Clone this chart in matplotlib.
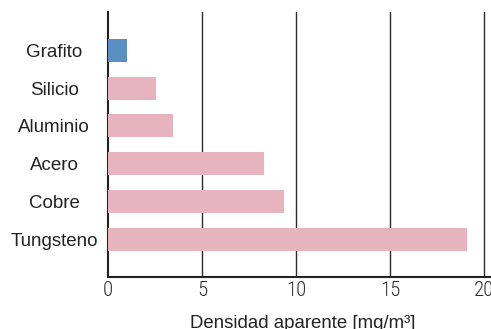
import matplotlib
matplotlib.use("Agg")
import matplotlib.pyplot as plt

categories = ["Grafito", "Silicio", "Aluminio", "Acero", "Cobre", "Tungsteno"]
values = [1.0, 2.55, 3.45, 8.3, 9.35, 19.1]
colors = ["#5b8fc4", "#e6b3be", "#e6b3be", "#e6b3be", "#e6b3be", "#e6b3be"]
xticks = [0, 5, 10, 15, 20]
xlabel = "Densidad aparente [mg/m³]"

plt.rcParams['font.family'] = ['Liberation Sans', 'DejaVu Sans']

fig = plt.figure(figsize=(4.91, 3.29), dpi=100)
ax = fig.add_axes([108.3/491, (329-277.3)/329, 1 - 108.3/491, (277.3-12.3)/329])

ypos = list(range(len(categories)))
ax.barh(ypos, values, height=0.61, color=colors, zorder=3)
ax.set_xlim(0, 20.36)
ax.set_ylim(len(categories) - 1 + 1.01, -1.01)

ax.set_yticks(ypos)
ax.set_yticklabels(categories, fontsize=13.5, color="#222222")
for lbl in ax.get_yticklabels():
    lbl.set_horizontalalignment("center")
ax.tick_params(axis='y', length=0, pad=39)

ax.set_xticks(xticks)
ax.set_xticklabels([str(t) for t in xticks], fontsize=15, fontweight='light',
                   family=['Roboto Condensed', 'DejaVu Sans'], color="#2a2a2a")
ax.tick_params(axis='x', length=0, pad=3)

for t in xticks[1:]:
    ax.axvline(t, color="#2a2a2a", lw=1.0, zorder=2)

for s in ["top", "right"]:
    ax.spines[s].set_visible(False)
for s in ["left", "bottom"]:
    ax.spines[s].set_color("#222222")
    ax.spines[s].set_linewidth(1.5)

ax.set_xlabel(xlabel, fontsize=13.4, color="#222222", va='top')
ax.xaxis.set_label_coords(0.509, -0.142)

fig.savefig("out.png", dpi=100)
